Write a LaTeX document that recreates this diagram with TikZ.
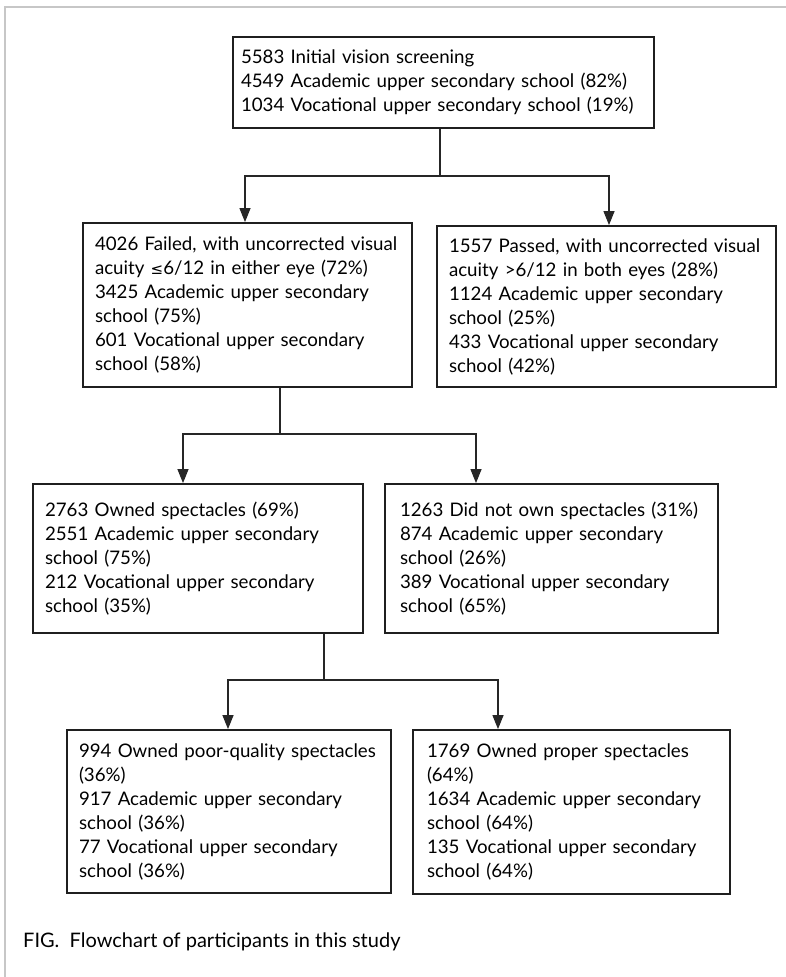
\documentclass[tikz,border=0pt]{standalone}
\usepackage{fontspec}
\setmainfont{Lato}
\newfontfamily\symf{DejaVu Sans}
\usetikzlibrary{arrows.meta}
\begin{document}
\begin{tikzpicture}[x=1pt,y=-1pt,
  box/.style={draw=black!88, line width=1.8pt, rectangle, align=left,
    inner ysep=0pt, font=\fontsize{18.7}{24}\selectfont},
  conn/.style={draw=black!85, line width=1.2pt},
  arr/.style={conn, -{Triangle[width=11pt,length=14pt]}},
  frame/.style={draw=black!22, line width=1.5pt}]
\useasboundingbox (0,0) rectangle (786,977);
\draw[frame] (5,977) -- (5,7) -- (786,7);

\node[box, minimum width=421pt, minimum height=91pt, inner xsep=8pt, text width=405pt] (top) at (443.5,82.5)
 {5583 Initial vision screening\\4549 Academic upper secondary school (82\%)\\1034 Vocational upper secondary school (19\%)};
\node[box, minimum width=329pt, minimum height=164pt, inner xsep=12pt, text width=305pt] (fail) at (247.5,305)
 {\mbox{4026 Failed, with uncorrected visual}\\acuity {\symf\fontsize{15}{24}\selectfont ≤}6/12 in either eye (72\%)\\3425 Academic upper secondary\\school (75\%)\\601 Vocational upper secondary\\school (58\%)};
\node[box, minimum width=339pt, minimum height=161pt, inner xsep=12pt, text width=315pt] (pass) at (606.5,306.5)
 {\mbox{1557 Passed, with uncorrected visual}\\acuity >6/12 in both eyes (28\%)\\1124 Academic upper secondary\\school (25\%)\\433 Vocational upper secondary\\school (42\%)};
\node[box, minimum width=330pt, minimum height=149pt, inner xsep=12pt, text width=306pt] (own) at (198,558.5)
 {2763 Owned spectacles (69\%)\\2551 Academic upper secondary\\school (75\%)\\212 Vocational upper secondary\\school (35\%)};
\node[box, minimum width=333pt, minimum height=149pt, inner xsep=15pt, text width=303pt] (notown) at (551.5,558.5)
 {1263 Did not own spectacles (31\%)\\874 Academic upper secondary\\school (26\%)\\389 Vocational upper secondary\\school (65\%)};
\node[box, minimum width=324pt, minimum height=163pt, inner xsep=12pt, text width=300pt] (poor) at (229,811.5)
 {\mbox{994 Owned poor-quality spectacles}\\(36\%)\\917 Academic upper secondary\\school (36\%)\\77 Vocational upper secondary\\school (36\%)};
\node[box, minimum width=317pt, minimum height=164pt, inner xsep=14pt, text width=289pt] (proper) at (571.5,812)
 {1769 Owned proper spectacles\\(64\%)\\1634 Academic upper secondary\\school (64\%)\\135 Vocational upper secondary\\school (64\%)};

\node[anchor=base west, inner sep=0pt, font=\fontsize{20}{22}\selectfont] (cap) at (23,947)
 {FIG.\ \ Flowchart of participants in this study};

% level 1
\coordinate (j1) at (440,176);
\coordinate (a1) at (245,176);
\coordinate (a2) at (609,176);
\draw[conn] (top.south -| j1) -- (j1);
\draw[arr] (j1) -- (a1) -- (a1 |- fail.north);
\draw[arr] (j1) -- (a2) -- (a2 |- pass.north);
% level 2
\coordinate (j2) at (280,434);
\coordinate (b1) at (183,434);
\coordinate (b2) at (476,434);
\draw[conn] (fail.south -| j2) -- (j2);
\draw[arr] (j2) -- (b1) -- (b1 |- own.north);
\draw[arr] (j2) -- (b2) -- (b2 |- notown.north);
% level 3
\coordinate (j3) at (324,680);
\coordinate (c1) at (228,680);
\coordinate (c2) at (498,680);
\draw[conn] (own.south -| j3) -- (j3);
\draw[arr] (j3) -- (c1) -- (c1 |- poor.north);
\draw[arr] (j3) -- (c2) -- (c2 |- proper.north);
\end{tikzpicture}
\end{document}
